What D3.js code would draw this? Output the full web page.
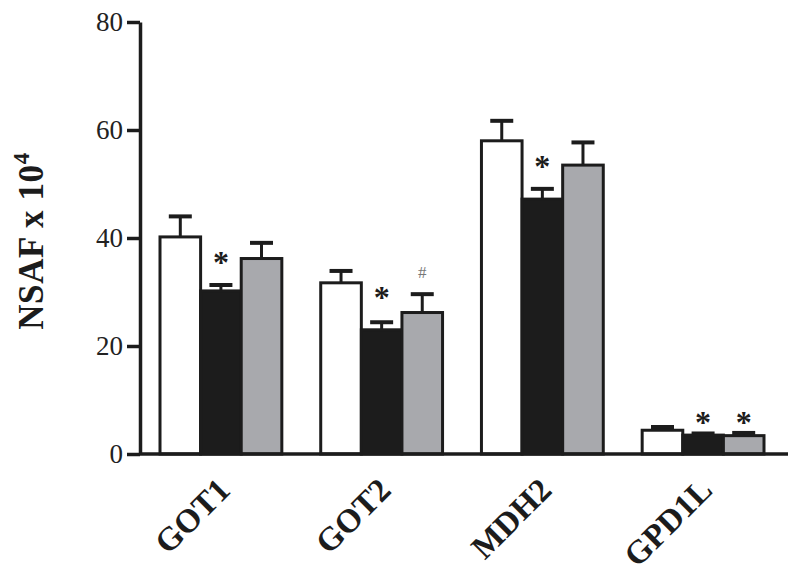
<!DOCTYPE html>
<html><head><meta charset="utf-8">
<script src="https://cdn.jsdelivr.net/npm/d3@7"></script>
<style>body{margin:0;background:#fff;} svg{display:block;} text{font-family:"Liberation Serif","Times New Roman",Times,serif;}</style>
</head><body>
<svg id="chart" width="800" height="578"></svg>
<script>
const categories = ["GOT1", "GOT2", "MDH2", "GPD1L"];
const series = ["control", "treatA", "treatB"];
const means = [
  [40.2, 30.2, 36.2],
  [31.7, 23.0, 26.2],
  [58.0, 47.2, 53.5],
  [4.4, 3.5, 3.4]
];
const errors = [
  [3.8, 1.1, 2.9],
  [2.2, 1.4, 3.4],
  [3.7, 1.9, 4.2],
  [0.6, 0.3, 0.5]
];
const marks = [
  ["", "*", ""],
  ["", "*", "#"],
  ["", "*", ""],
  ["", "*", "*"]
];
const markLevels = [
  [0, 36.3, 0],
  [0, 29.8, 33.7],
  [0, 54.1, 0],
  [0, 6.7, 6.7]
];
const yTicks = [0, 20, 40, 60, 80];
const fills = ["#ffffff", "#1c1c1c", "#a8a9ad"];

const svg = d3.select("#chart");
const ink = "#1c1c1c";

const x = d3.scaleBand().domain(categories).range([160, 764]).paddingInner(0.242).paddingOuter(0);
const xs = d3.scaleBand().domain(series).range([0, x.bandwidth()]);
const y = d3.scaleLinear().domain([0, 80]).range([454, 22]);

const groups = svg.append("g").selectAll("g").data(categories).join("g")
  .attr("transform", d => `translate(${x(d)},0)`);

groups.each(function(cat, ci) {
  const g = d3.select(this);
  series.forEach((s, si) => {
    const v = means[ci][si], e = errors[ci][si];
    const bx = xs(s), bw = xs.bandwidth();
    const cx = bx + bw / 2;
    g.append("line").attr("x1", cx).attr("x2", cx)
      .attr("y1", y(v)).attr("y2", y(v + e))
      .attr("stroke", ink).attr("stroke-width", 3);
    g.append("line").attr("x1", cx - 11.5).attr("x2", cx + 11.5)
      .attr("y1", y(v + e)).attr("y2", y(v + e))
      .attr("stroke", ink).attr("stroke-width", 4);
    g.append("rect").attr("x", bx).attr("y", y(v))
      .attr("width", bw).attr("height", y(0) - y(v))
      .attr("fill", fills[si]).attr("stroke", ink).attr("stroke-width", 3);
    const m = marks[ci][si];
    if (m === "*") {
      g.append("text").attr("x", cx).attr("y", y(markLevels[ci][si]) + 15)
        .attr("text-anchor", "middle")
        .attr("font-weight", "bold").attr("font-size", 32).attr("fill", ink).text("*");
    } else if (m === "#") {
      g.append("text").attr("x", cx).attr("y", y(markLevels[ci][si]) + 6)
        .attr("text-anchor", "middle")
        .attr("font-size", 17).attr("fill", "#777").text("#");
    }
  });
});

svg.append("line").attr("x1", 139).attr("x2", 788).attr("y1", y(0)).attr("y2", y(0))
  .attr("stroke", ink).attr("stroke-width", 3.5);

const yAxis = svg.append("g").attr("transform", "translate(140,0)")
  .call(d3.axisLeft(y).tickValues(yTicks).tickSize(13).tickSizeOuter(0).tickPadding(4));
yAxis.attr("font-family", null);
yAxis.select(".domain").attr("stroke", ink).attr("stroke-width", 3.5);
yAxis.selectAll(".tick line").attr("stroke", ink).attr("stroke-width", 3.5);
yAxis.selectAll(".tick text").attr("font-size", 27).attr("fill", "#222");

const yl = svg.append("text").attr("transform", "translate(43,241) rotate(-90)")
  .attr("text-anchor", "middle").attr("font-weight", "bold")
  .attr("font-size", 35).attr("letter-spacing", 0.6).attr("fill", ink);
yl.append("tspan").text("NSAF x 10");
yl.append("tspan").attr("dy", -14).attr("font-size", 23).text("4");

svg.append("g").selectAll("text").data(categories).join("text")
  .attr("transform", d => `translate(${x(d) + x.bandwidth() / 2 + 11},492) rotate(-45)`)
  .attr("text-anchor", "end").attr("font-weight", "bold")
  .attr("font-size", 33).attr("fill", ink).text(d => d);
</script>
</body></html>
